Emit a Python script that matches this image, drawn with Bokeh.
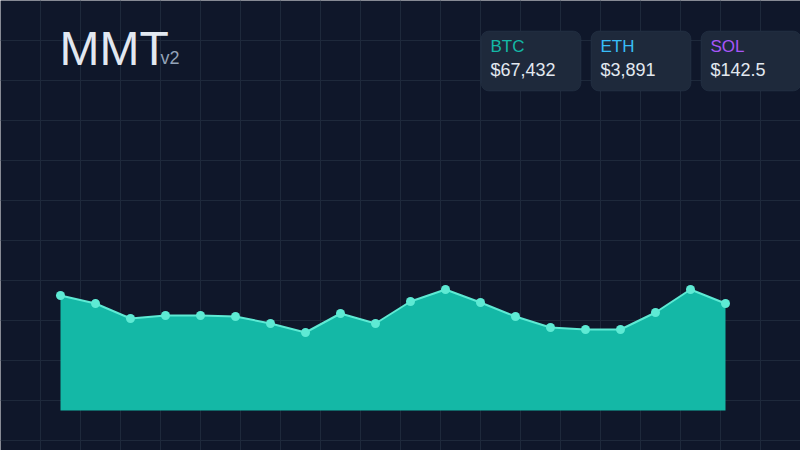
from bokeh.plotting import figure
from bokeh.models import Range1d, Label, BoxAnnotation, Grid, FixedTicker
from bokeh.embed import file_html
from bokeh.resources import INLINE

# ---- data ----
points = list(range(20))
values = [115, 107, 92, 95, 95, 94, 87, 78, 97, 87,
          109, 121, 108, 94, 83, 81, 81, 98, 121, 107]
tickers = ["BTC", "ETH", "SOL"]
prices = ["$67,432", "$3,891", "$142.5"]
ticker_colors = ["#14b8a6", "#38bdf8", "#a855f7"]

# ---- layout helpers (page pixels -> data space) ----
W, H = 800, 450
OX, OY = 0, 0            # page offset of the figure
X0, STEP = 60, 35        # page x of first point, px per step
BASE = 410               # page y of value 0


def px(x):
    return (x - X0) / STEP


def py(y):
    return BASE - y


def ty(baseline, size):
    # compensate the renderer's baseline placement
    return py(baseline - 0.375 * size)


p = figure(width=W, height=H, output_backend="svg", toolbar_location=None,
           x_range=Range1d(px(OX), px(OX + W)), y_range=Range1d(py(OY + H), py(OY)),
           x_axis_type=None, y_axis_type=None, min_border=0)
p.background_fill_color = "#0f172a"
p.border_fill_color = "#0f172a"
p.outline_line_color = None

p.add_layout(Grid(dimension=0, ticker=FixedTicker(ticks=[px(v) for v in range(0, 801, 40)]),
                  grid_line_color="#1e293b", grid_line_width=1))
p.add_layout(Grid(dimension=1, ticker=FixedTicker(ticks=[py(v) for v in range(0, 451, 40)]),
                  grid_line_color="#1e293b", grid_line_width=1))

p.varea(x=points, y1=[0] * len(values), y2=values, fill_color="#14b8a6")
p.line(points, values, line_color="#5eead4", line_width=2)
p.scatter(points, values, size=9, fill_color="#5eead4", line_color=None)

FONT = "Liberation Sans"
p.add_layout(Label(x=px(59), y=ty(66, 48), text="MMT", text_font=FONT, text_font_size="48px",
                   text_color="#e2e8f0", text_baseline="alphabetic"))
p.add_layout(Label(x=px(160), y=ty(64, 18), text="v2", text_font=FONT, text_font_size="18px",
                   text_color="#94a3b8", text_baseline="alphabetic"))

for i, (t, pr, c) in enumerate(zip(tickers, prices, ticker_colors)):
    left = 480.5 + 110 * i
    p.add_layout(BoxAnnotation(left=px(left), right=px(left + 100), top=py(30.5), bottom=py(90.5),
                               fill_color="#1e293b", fill_alpha=1, line_color="#334155",
                               line_width=1, border_radius=8, level="overlay"))
    p.add_layout(Label(x=px(left + 9.5), y=ty(52, 17), text=t, text_font=FONT, text_font_size="17px",
                       text_color=c, text_baseline="alphabetic", level="overlay"))
    p.add_layout(Label(x=px(left + 9.5), y=ty(76, 18), text=pr, text_font=FONT, text_font_size="18px",
                       text_color="#e2e8f0", text_baseline="alphabetic", level="overlay"))

open("out.html", "w").write(file_html(p, INLINE))
